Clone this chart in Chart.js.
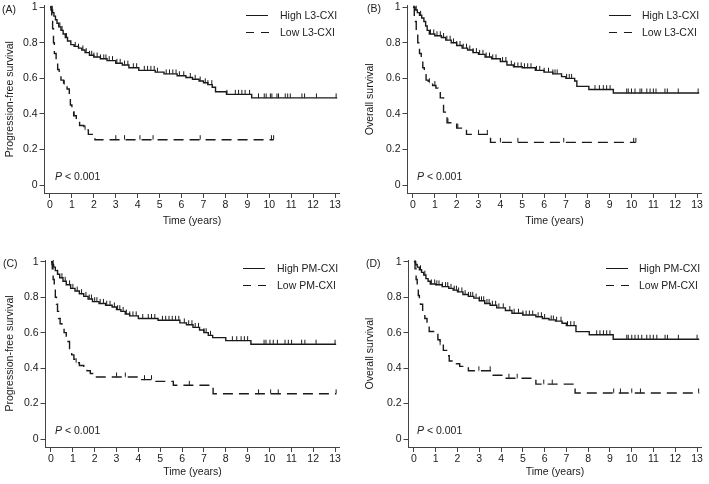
<!DOCTYPE html>
<html>
<head>
<meta charset="utf-8">
<script src="https://cdn.jsdelivr.net/npm/chart.js@4.4.1/dist/chart.umd.min.js"></script>
<style>
  body { margin: 0; background: #fff; width: 709px; height: 484px; position: relative; overflow: hidden;
         font-family: "Liberation Sans", Arial, sans-serif; color: #222; }
  .panel { position: absolute; height: 242px; }
  .panel canvas { position: absolute; left: 0; top: 0; }
  .txt { position: absolute; font-size: 10.5px; line-height: 12px; white-space: nowrap; }
  .solid { position: absolute; height: 0; border-top: 1.4px solid #1a1a1a; }
</style>
</head>
<body>
<script>
// ---- data ----
const xTicks = [0, 1, 2, 3, 4, 5, 6, 7, 8, 9, 10, 11, 12, 13];
const yTicks = [0, 0.2, 0.4, 0.6, 0.8, 1];
const panelTags = ['(A)', '(B)', '(C)', '(D)'];
const yTitles = ['Progression-free survival', 'Overall survival', 'Progression-free survival', 'Overall survival'];
const groupNames = [['High L3-CXI', 'Low L3-CXI'], ['High L3-CXI', 'Low L3-CXI'], ['High PM-CXI', 'Low PM-CXI'], ['High PM-CXI', 'Low PM-CXI']];

// (A) PFS, L3-CXI
const aHighT = [0, 0.05, 0.12, 0.18, 0.25, 0.32, 0.4, 0.5, 0.6, 0.7, 0.8, 0.95, 1.1, 1.3, 1.45, 1.6, 1.8, 2.0, 2.3, 2.6, 3.0, 3.3, 3.6, 4.05, 4.8, 5.2, 5.8, 6.2, 6.5, 6.8, 7.0, 7.2, 7.4, 7.55, 8.05, 9.2, 13.1];
const aHighS = [1, 0.985, 0.97, 0.95, 0.93, 0.91, 0.89, 0.87, 0.85, 0.83, 0.81, 0.79, 0.78, 0.77, 0.76, 0.745, 0.73, 0.72, 0.71, 0.70, 0.685, 0.675, 0.66, 0.645, 0.635, 0.625, 0.615, 0.605, 0.595, 0.585, 0.575, 0.565, 0.55, 0.525, 0.51, 0.49, 0.49];
const aHighC = [0.05, 0.1, 0.45, 0.55, 0.75, 1.15, 1.3, 1.5, 1.65, 1.8, 1.9, 2.0, 2.15, 2.3, 2.45, 2.55, 2.7, 2.85, 3.05, 3.2, 3.4, 3.55, 3.8, 3.95, 4.3, 4.45, 4.6, 4.75, 4.9, 5.3, 5.45, 5.6, 5.75, 5.9, 6.1, 6.4, 6.62, 6.85, 7.08, 7.2, 7.38, 8.07, 8.45, 8.6, 8.75, 8.9, 9.1, 9.51, 9.77, 9.86, 10.05, 10.12, 10.35, 10.42, 10.73, 10.84, 10.96, 11.49, 11.61, 12.15, 13.05];
const aLowT = [0, 0.08, 0.12, 0.16, 0.2, 0.28, 0.35, 0.42, 0.5, 0.62, 0.78, 0.88, 0.93, 1.0, 1.08, 1.2, 1.35, 1.55, 1.75, 2.05, 10.2];
const aLowS = [1, 0.95, 0.88, 0.8, 0.74, 0.69, 0.65, 0.62, 0.59, 0.565, 0.54, 0.5, 0.45, 0.42, 0.39, 0.36, 0.335, 0.31, 0.285, 0.255, 0.255];
const aLowC = [0.65, 1.1, 1.6, 3.0, 3.4, 4.1, 4.7, 6.85, 10.1, 10.2];

// (B) OS, L3-CXI
const bHighT = [0, 0.1, 0.2, 0.3, 0.4, 0.5, 0.58, 0.65, 0.75, 1.0, 1.3, 1.5, 1.75, 2.0, 2.25, 2.5, 2.75, 3.0, 3.3, 3.6, 4.0, 4.3, 4.6, 5.0, 5.6, 6.0, 6.4, 6.8, 7.0, 7.4, 7.5, 8.05, 9.17, 13.1];
const bHighS = [1, 0.985, 0.97, 0.955, 0.94, 0.92, 0.895, 0.87, 0.85, 0.84, 0.83, 0.815, 0.80, 0.785, 0.77, 0.76, 0.745, 0.735, 0.72, 0.71, 0.695, 0.675, 0.665, 0.66, 0.645, 0.635, 0.625, 0.61, 0.60, 0.585, 0.555, 0.537, 0.518, 0.518];
const bHighC = [0.05, 0.15, 0.35, 0.8, 0.95, 1.1, 1.25, 1.4, 1.55, 1.7, 1.85, 2.0, 2.15, 2.3, 2.45, 2.6, 2.75, 2.9, 3.05, 3.2, 3.35, 3.5, 3.65, 3.8, 4.1, 4.25, 4.5, 4.65, 4.8, 4.95, 5.1, 5.25, 5.4, 5.65, 5.8, 6.0, 6.2, 6.4, 6.5, 6.6, 7.03, 7.15, 7.26, 8.33, 8.53, 8.71, 8.86, 9.02, 9.78, 9.85, 10.0, 10.16, 10.39, 10.47, 10.7, 10.85, 11.0, 11.12, 11.53, 11.64, 12.14, 13.05];
const bLowT = [0, 0.06, 0.15, 0.22, 0.3, 0.38, 0.45, 0.52, 0.6, 0.7, 0.9, 1.05, 1.15, 1.25, 1.4, 1.56, 2.0, 2.45, 3.55, 10.2];
const bLowS = [1, 0.92, 0.87, 0.8, 0.74, 0.70, 0.66, 0.62, 0.59, 0.575, 0.56, 0.545, 0.52, 0.49, 0.41, 0.35, 0.32, 0.285, 0.24, 0.24];
const bLowC = [0.75, 1.0, 1.6, 2.05, 3.0, 3.4, 4.0, 4.8, 6.9, 10.1, 10.2];

// (C) PFS, PM-CXI
const cHighT = [0, 0.05, 0.12, 0.2, 0.3, 0.4, 0.55, 0.7, 0.9, 1.1, 1.3, 1.5, 1.7, 1.9, 2.2, 2.5, 2.8, 3.0, 3.2, 3.4, 3.6, 4.0, 4.9, 5.9, 6.2, 6.5, 6.8, 7.0, 7.2, 7.4, 8.0, 9.15, 13.05];
const cHighS = [1, 0.985, 0.97, 0.95, 0.93, 0.91, 0.89, 0.87, 0.85, 0.835, 0.82, 0.805, 0.79, 0.775, 0.765, 0.755, 0.745, 0.73, 0.72, 0.705, 0.695, 0.68, 0.67, 0.655, 0.645, 0.63, 0.615, 0.60, 0.585, 0.572, 0.555, 0.535, 0.535];
const cHighC = [0.1, 0.3, 0.5, 0.65, 0.85, 1.0, 1.2, 1.4, 1.6, 1.75, 1.85, 2.0, 2.1, 2.25, 2.4, 2.55, 2.7, 2.9, 3.05, 3.15, 3.3, 3.45, 3.6, 3.75, 3.9, 4.2, 4.45, 4.6, 4.75, 5.1, 5.25, 5.4, 5.55, 5.7, 5.85, 6.1, 6.3, 6.45, 6.6, 6.75, 7.0, 7.1, 7.3, 8.3, 8.5, 8.7, 8.85, 9.0, 9.75, 9.84, 10.02, 10.17, 10.36, 10.71, 10.86, 11.01, 11.47, 11.62, 12.13, 13.0];
const cLowT = [0, 0.06, 0.1, 0.15, 0.2, 0.25, 0.3, 0.35, 0.42, 0.5, 0.6, 0.7, 0.78, 0.85, 0.95, 1.05, 1.15, 1.3, 1.5, 1.65, 1.8, 2.0, 4.0, 4.7, 5.6, 7.42, 13.05];
const cLowS = [1, 0.96, 0.9, 0.85, 0.8, 0.76, 0.72, 0.68, 0.65, 0.625, 0.6, 0.58, 0.55, 0.51, 0.475, 0.45, 0.43, 0.415, 0.4, 0.385, 0.37, 0.35, 0.335, 0.325, 0.303, 0.255, 0.255];
const cLowC = [1.15, 3.0, 3.4, 4.28, 4.6, 6.33, 9.5, 10.05, 10.4, 13.05];

// (D) OS, PM-CXI
const dHighT = [0, 0.08, 0.15, 0.25, 0.35, 0.45, 0.55, 0.65, 0.75, 1.0, 1.3, 1.6, 1.8, 2.0, 2.25, 2.5, 2.75, 3.0, 3.25, 3.5, 3.8, 4.2, 4.5, 5.0, 5.6, 5.9, 6.2, 6.5, 6.8, 7.0, 7.44, 8.05, 9.15, 13.1];
const dHighS = [1, 0.985, 0.97, 0.955, 0.94, 0.925, 0.905, 0.89, 0.875, 0.87, 0.86, 0.85, 0.84, 0.83, 0.815, 0.805, 0.795, 0.78, 0.765, 0.755, 0.74, 0.725, 0.71, 0.70, 0.69, 0.68, 0.672, 0.665, 0.653, 0.64, 0.606, 0.588, 0.563, 0.563];
const dHighC = [0.05, 0.3, 0.5, 0.8, 0.95, 1.05, 1.15, 1.3, 1.45, 1.55, 1.7, 1.85, 1.95, 2.05, 2.2, 2.35, 2.5, 2.6, 2.7, 2.85, 3.0, 3.1, 3.2, 3.35, 3.45, 3.6, 3.75, 3.9, 4.1, 4.4, 4.6, 4.8, 5.0, 5.15, 5.3, 5.45, 5.7, 5.85, 6.0, 6.3, 6.4, 6.55, 6.75, 7.05, 7.2, 7.35, 8.39, 8.54, 8.7, 8.85, 9.0, 9.77, 9.84, 10.0, 10.15, 10.3, 10.46, 10.69, 10.84, 10.99, 11.15, 11.53, 11.64, 12.14, 13.0];
const dLowT = [0, 0.05, 0.1, 0.15, 0.2, 0.25, 0.3, 0.4, 0.5, 0.6, 0.7, 1.0, 1.1, 1.2, 1.35, 1.5, 1.62, 1.95, 2.1, 2.5, 3.55, 4.2, 5.6, 7.4, 13.1];
const dLowS = [1, 0.96, 0.9, 0.85, 0.81, 0.78, 0.76, 0.72, 0.68, 0.64, 0.607, 0.59, 0.56, 0.53, 0.5, 0.47, 0.44, 0.425, 0.41, 0.385, 0.36, 0.343, 0.31, 0.26, 0.26];
const dLowC = [1.2, 2.98, 3.5, 4.36, 4.74, 5.96, 6.35, 9.17, 9.48, 10.0, 10.4, 13.07];

const curves = [
  [[aHighT, aHighS, aHighC], [aLowT, aLowS, aLowC]],
  [[bHighT, bHighS, bHighC], [bLowT, bLowS, bLowC]],
  [[cHighT, cHighS, cHighC], [cLowT, cLowS, cLowC]],
  [[dHighT, dHighS, dHighC], [dLowT, dLowS, dLowC]]
];

// ---- layout of the four panels (pixels) ----
const panels = [
  { x: 0,   y: 0,   w: 354, left: 44.5, right: 339.4, top: 5.5, bottom: 193, padB: 14.4, yTitlePad: 3.6,
    tag: [2, 9],  legLine: 246, legText: 280, legY: [15, 32], p: [55, 176] },
  { x: 354, y: 0,   w: 355, left: 53.5, right: 347.4, top: 5.5, bottom: 193, padB: 14.4, yTitlePad: 10.3,
    tag: [13, 8], legLine: 255, legText: 288, legY: [15, 32], p: [63, 176] },
  { x: 0,   y: 242, w: 354, left: 45.5, right: 339.4, top: 18,  bottom: 205, padB: 5.4,  yTitlePad: 3.6,
    tag: [3, 21], legLine: 243, legText: 277, legY: [26, 43], p: [55, 188] },
  { x: 354, y: 242, w: 355, left: 54.5, right: 347.4, top: 18,  bottom: 205, padB: 5.4,  yTitlePad: 10.3,
    tag: [12, 21], legLine: 252, legText: 285, legY: [26, 43], p: [63, 188] }
];

const INK = '#1a1a1a';
const FONT = { family: '"Liberation Sans", Arial, sans-serif', size: 10.5 };

// censor mark: short vertical tick rising from the curve
function makeCensorMark() {
  const c = document.createElement('canvas');
  c.width = 3; c.height = 11;
  const g = c.getContext('2d');
  g.strokeStyle = INK; g.lineWidth = 1;
  g.beginPath(); g.moveTo(1.5, 1); g.lineTo(1.5, 5.5); g.stroke();
  return c;
}
const censorMark = makeCensorMark();

function survAt(times, surv, t) {
  let s = surv[0];
  for (let i = 0; i < times.length; i++) {
    if (times[i] <= t) s = surv[i];
  }
  return s;
}

function addText(parent, str, x, cy, html) {
  const d = document.createElement('div');
  d.className = 'txt';
  d.style.left = x + 'px';
  d.style.top = (cy - 6.5) + 'px';
  if (html) d.innerHTML = str; else d.textContent = str;
  parent.appendChild(d);
}

function addSample(parent, x, cy, dashed) {
  const segs = dashed ? [[0, 8], [15, 8]] : [[0, 22]];
  segs.forEach(([dx, len]) => {
    const d = document.createElement('div');
    d.className = 'solid';
    d.style.left = (x + dx) + 'px';
    d.style.top = (cy - 0.5) + 'px';
    d.style.width = len + 'px';
    parent.appendChild(d);
  });
}

panels.forEach((p, i) => {
  const box = document.createElement('div');
  box.className = 'panel';
  box.style.left = p.x + 'px';
  box.style.top = p.y + 'px';
  box.style.width = p.w + 'px';
  document.body.appendChild(box);

  const canvas = document.createElement('canvas');
  canvas.width = p.w; canvas.height = 242;
  box.appendChild(canvas);

  const datasets = [];
  curves[i].forEach(([T, S, C], g) => {
    datasets.push({
      label: groupNames[i][g],
      data: T.map((t, k) => ({ x: t, y: S[k] })),
      stepped: 'before',
      borderColor: INK,
      borderWidth: 1.4,
      borderDash: g === 1 ? [10, 6] : [],
      pointRadius: 0,
      fill: false
    });
    datasets.push({
      label: groupNames[i][g] + ' censored',
      data: C.map(t => ({ x: t, y: survAt(T, S, t) })),
      showLine: false,
      pointStyle: censorMark,
      pointRadius: 2
    });
  });

  new Chart(canvas.getContext('2d'), {
    type: 'line',
    data: { datasets },
    options: {
      responsive: false,
      animation: false,
      events: [],
      layout: { padding: { left: 0, top: p.top, right: p.w - p.right, bottom: p.padB } },
      plugins: { legend: { display: false }, tooltip: { enabled: false } },
      scales: {
        x: {
          type: 'linear',
          min: -0.25,
          max: 13.2,
          afterBuildTicks: s => { s.ticks = xTicks.map(v => ({ value: v })); },
          afterFit: s => {
            s.height = (242 - p.padB) - p.bottom;
            s.paddingLeft = 0; s.paddingRight = 0;
          },
          ticks: { color: INK, font: FONT, padding: 1, maxRotation: 0, autoSkip: false, callback: v => String(v) },
          grid: { drawOnChartArea: false, drawTicks: true, tickLength: 5, color: '#444' },
          border: { display: true, color: '#444' },
          title: { display: true, text: 'Time (years)', color: INK, font: FONT, padding: 0 }
        },
        y: {
          type: 'linear',
          min: -0.045,
          max: 1.01,
          afterBuildTicks: s => { s.ticks = yTicks.map(v => ({ value: v })); },
          afterFit: s => {
            s.width = p.left;
            s.paddingTop = 0; s.paddingBottom = 0;
          },
          ticks: { color: INK, font: FONT, padding: 2, callback: v => String(v) },
          grid: { drawOnChartArea: false, drawTicks: true, tickLength: 5, color: '#444' },
          border: { display: true, color: '#444' },
          title: { display: true, text: yTitles[i], color: INK, font: FONT, padding: { top: p.yTitlePad, bottom: 0 } }
        }
      }
    }
  });

  addText(box, panelTags[i], p.tag[0], p.tag[1]);
  groupNames[i].forEach((name, g) => {
    addSample(box, p.legLine, p.legY[g], g === 1);
    addText(box, name, p.legText, p.legY[g]);
  });
  addText(box, '<i>P</i> &lt; 0.001', p.p[0], p.p[1], true);
});
</script>
</body>
</html>
